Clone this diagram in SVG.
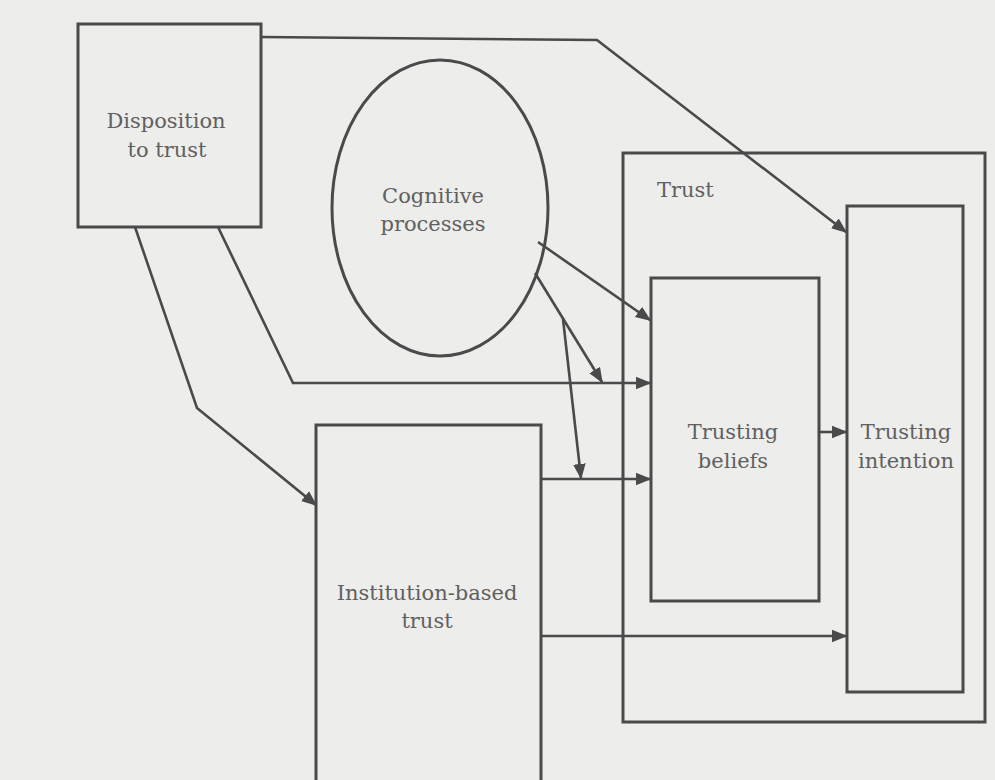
<svg xmlns="http://www.w3.org/2000/svg" width="995" height="780" viewBox="0 0 995 780">
<defs>
<marker id="ah" viewBox="0 0 10 10" refX="9" refY="5" markerWidth="6" markerHeight="6" markerUnits="strokeWidth" orient="auto">
<path d="M0,1 L10,5 L0,9 z" fill="#4a4a4a"/>
</marker>
<style>
.box{fill:none;stroke:#4a4a4a;stroke-width:3}
.ln{fill:none;stroke:#4a4a4a;stroke-width:2.6;marker-end:url(#ah)}
.t{font-family:"DejaVu Serif","Liberation Serif",serif;font-size:21px;fill:#606060;text-anchor:middle}
</style>
</defs>
<rect width="995" height="780" fill="#ededeb"/>
<g id="trust">
<rect class="box" x="623" y="153" width="362" height="569"/>
<text class="t" x="657" y="197" style="text-anchor:start">Trust</text>
</g>
<g id="disposition">
<rect class="box" x="78" y="24" width="183" height="203"/>
<text class="t" x="166" y="128">Disposition</text>
<text class="t" x="167" y="157">to trust</text>
</g>
<g id="cognitive">
<ellipse class="box" cx="440" cy="208" rx="108" ry="148"/>
<text class="t" x="433" y="203">Cognitive</text>
<text class="t" x="433" y="231">processes</text>
</g>
<g id="institution">
<rect class="box" x="316" y="425" width="225" height="360"/>
<text class="t" x="427" y="600">Institution-based</text>
<text class="t" x="427" y="628">trust</text>
</g>
<g id="beliefs">
<rect class="box" x="651" y="278" width="168" height="323"/>
<text class="t" x="733" y="439">Trusting</text>
<text class="t" x="733" y="468">beliefs</text>
</g>
<g id="intention">
<rect class="box" x="847" y="206" width="116" height="486"/>
<text class="t" x="906" y="439">Trusting</text>
<text class="t" x="906" y="468">intention</text>
</g>
<g id="connectors">
<polyline class="ln" points="261,37 597,40 846,232"/>
<polyline class="ln" points="135,227 197,408 316,505"/>
<polyline class="ln" points="218,227 293,383 650,383"/>
<line class="ln" x1="538" y1="242" x2="650" y2="320"/>
<line class="ln" x1="535" y1="273" x2="602" y2="382"/>
<line class="ln" x1="563" y1="319" x2="581" y2="478"/>
<line class="ln" x1="541" y1="479" x2="650" y2="479"/>
<line class="ln" x1="541" y1="636" x2="846" y2="636"/>
<line class="ln" x1="819" y1="432" x2="846" y2="432"/>
</g>
</svg>
